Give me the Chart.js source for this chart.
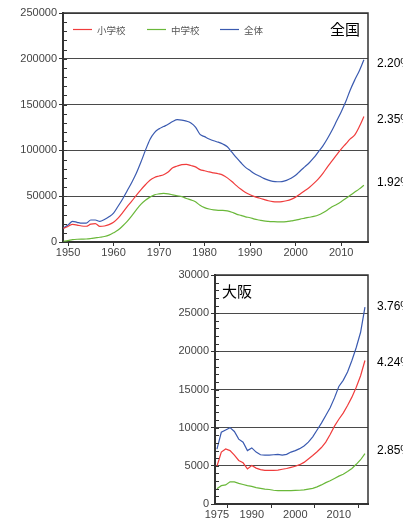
<!DOCTYPE html>
<html><head><meta charset="utf-8">
<script src="https://cdn.jsdelivr.net/npm/chart.js@4.4.1/dist/chart.umd.min.js"></script>
<style>
html,body{margin:0;padding:0;background:#fff;width:403px;height:522px;overflow:hidden;}
#c1{position:absolute;left:0;top:0;}
#c2{position:absolute;left:170px;top:262px;}
</style></head><body>
<canvas id="c1" width="403" height="262"></canvas>
<canvas id="c2" width="233" height="260"></canvas>
<script>
// ---------- data ----------
const seriesNames = ['小学校', '中学校', '全体'];
const seriesColors = ['#f03c3c', '#6ab83a', '#3a5ab0'];

const natYears = [1949,1950,1951,1952,1953,1954,1955,1956,1957,1958,1959,
  1960,1961,1962,1963,1964,1965,1966,1967,1968,1969,
  1970,1971,1972,1973,1974,1975,1976,1977,1978,1979,
  1980,1981,1982,1983,1984,1985,1986,1987,1988,1989,
  1990,1991,1992,1993,1994,1995,1996,1997,1998,1999,
  2000,2001,2002,2003,2004,2005,2006,2007,2008,2009,
  2010,2011,2012,2013,2014,2015];
const natElementary = [14900,17000,19200,18500,17500,17200,19500,20000,17000,17500,19000,
  21500,26000,32000,38500,44500,51000,57000,62500,67500,70500,
  72000,73500,76500,81000,83000,84500,84800,83500,82000,79000,
  77800,76500,75500,74500,73000,70000,66000,61500,57500,54000,
  51500,49500,48000,46500,45000,44000,43800,44000,45000,46500,
  49000,52500,56000,59500,64000,69000,75000,82000,88500,95000,
  101500,107000,112500,117000,126000,137000];
const natJunior = [800,1500,2500,3000,3200,3300,3800,4500,5200,6000,7500,
  10000,13000,17500,22500,28500,35000,41000,45500,49000,51500,
  52500,53000,52500,51500,50500,49500,47500,46000,44000,40000,
  37500,36000,35000,34500,34500,34000,32500,30500,29000,27500,
  26500,25000,24000,23000,22500,22200,22000,22000,22300,23000,
  23800,25000,26000,27000,28000,29500,32000,35000,38500,41000,
  44000,47500,51000,54500,58000,62000];
const natTotal = [15200,18500,22500,21500,20500,20500,24000,24000,22500,24500,27500,
  31500,39000,47000,56000,65000,75000,87000,100000,112000,119500,
  123500,126000,128500,131500,133500,133000,132000,130000,125500,117500,
  115000,112500,110500,109000,107000,104000,98000,92000,86500,81500,
  78000,74500,72000,69500,67500,66200,65800,66000,67300,69500,
  72800,77500,82000,86500,92000,98500,105000,113000,122000,132000,
  142000,153000,166000,177000,187000,199000];
const natTicksX = [1950,1960,1970,1980,1990,2000,2010];
const natRates = ['2.35%', '1.92%', '2.20%'];

const osakaYears = ['1975','1977','1979','1981','1983','1985','1987','1989',
  '1990','1991','1992','1993','1994','1995','1996','1997','1998','1999',
  '2000','2001','2002','2003','2004','2005','2006','2007','2008','2009',
  '2010','2011','2012','2013','2014','2015','2016'];
const osakaShownLabels = ['1975','1990','2000','2010'];
const osakaElementary = [4950,6800,7200,7000,6400,5700,5400,4600,
  5050,4700,4500,4400,4400,4400,4450,4550,4650,4800,
  4950,5150,5450,5900,6350,6850,7400,8100,9100,10200,
  11100,11900,12900,14000,15300,16800,18800];
const osakaJunior = [2000,2400,2500,2900,2900,2700,2550,2400,
  2300,2150,2050,1950,1900,1800,1750,1750,1750,1750,
  1780,1800,1850,1950,2050,2250,2500,2800,3050,3350,
  3650,3900,4250,4650,5200,5800,6600];
const osakaTotal = [7200,9400,9700,10000,9500,8500,8100,7000,
  7350,6800,6450,6400,6400,6450,6500,6400,6500,6800,
  7000,7250,7600,8100,8800,9700,10600,11600,12600,13900,
  15400,16200,17300,18800,20500,22500,25800];
const osakaRates = ['4.24%', '2.85%', '3.76%'];

// ---------- plugin ----------
const extras = {
  id: 'extras',
  afterDraw(chart, args, o) {
    const ctx = chart.ctx, a = chart.chartArea, ys = chart.scales.y;
    ctx.save();
    // minor ticks inside left axis
    ctx.strokeStyle = '#333'; ctx.lineWidth = 1;
    for (let v = 0; v <= ys.max; v += o.minor) {
      const py = Math.round(ys.getPixelForValue(v)) + 0.5;
      ctx.beginPath(); ctx.moveTo(a.left, py); ctx.lineTo(a.left + 4, py); ctx.stroke();
    }
    // frame top / right
    ctx.strokeStyle = '#333'; ctx.lineWidth = 1.5;
    ctx.beginPath(); ctx.moveTo(a.left, a.top); ctx.lineTo(a.right, a.top); ctx.lineTo(a.right, a.bottom); ctx.stroke();
    // title
    ctx.fillStyle = '#000'; ctx.font = '15px "Noto Sans CJK JP"'; ctx.textBaseline = 'middle';
    ctx.textAlign = o.titleAlign;
    ctx.fillText(o.title, o.titleAlign === 'right' ? a.right - 8 : a.left + 7, a.top + 16);
    // legend
    if (o.legend) {
      const offs = [10, 84, 157];
      ctx.font = '9.5px "Noto Sans CJK JP"'; ctx.textAlign = 'left';
      chart.data.datasets.forEach((ds, i) => {
        const x0 = a.left + offs[i], yy = a.top + 16;
        ctx.strokeStyle = ds.borderColor; ctx.lineWidth = 1.2;
        ctx.beginPath(); ctx.moveTo(x0, yy + 0.5); ctx.lineTo(x0 + 19, yy + 0.5); ctx.stroke();
        ctx.fillStyle = '#555';
        ctx.fillText(ds.label, x0 + 24, yy + 1);
      });
    }
    // rate labels beside line ends
    ctx.font = '12px "Liberation Sans"'; ctx.textAlign = 'left'; ctx.fillStyle = '#000';
    chart.data.datasets.forEach((ds, i) => {
      const last = ds.data[ds.data.length - 1];
      const yv = typeof last === 'object' ? last.y : last;
      ctx.fillText(o.rates[i], a.right + 9, ys.getPixelForValue(yv) + o.rateDy[i]);
    });
    ctx.restore();
  }
};

const tickFont = { family: '"Liberation Sans"', size: 11 };

function mkDatasets(vals, smooth) {
  return vals.map((v, i) => ({
    label: seriesNames[i], data: v, borderColor: seriesColors[i],
    borderWidth: 1.2, pointRadius: 0, fill: false,
    tension: smooth ? 0.4 : 0, cubicInterpolationMode: smooth ? 'monotone' : 'default'
  }));
}

// ---------- national chart ----------
new Chart(document.getElementById('c1'), {
  type: 'line',
  data: {
    datasets: mkDatasets([natElementary, natJunior, natTotal].map(arr => arr.map((v, k) => ({ x: natYears[k], y: v }))), true)
  },
  options: {
    responsive: false, animation: false,
    layout: { padding: { left: 0, right: 35, top: 13, bottom: 0 } },
    plugins: {
      legend: { display: false }, tooltip: { enabled: false },
      extras: { minor: 10000, title: '全国', titleAlign: 'right', legend: true, rates: natRates, rateDy: [3, -3, 4] }
    },
    scales: {
      x: {
        type: 'linear', min: 1948.9, max: 2015.9,
        afterBuildTicks: s => { s.ticks = natTicksX.map(v => ({ value: v })); },
        afterFit: s => { s.height = 20; },
        ticks: { color: '#444', font: tickFont, padding: 0, maxRotation: 0, callback: v => String(v) },
        grid: { drawOnChartArea: false, tickLength: 4, tickColor: '#333', tickWidth: 1 },
        border: { color: '#333', width: 2 }
      },
      y: {
        min: 0, max: 250000,
        afterFit: s => { s.width = 63; },
        ticks: { stepSize: 50000, color: '#444', font: tickFont, padding: 2, callback: v => String(v) },
        grid: { color: '#4a4a4a', lineWidth: 1, tickLength: 4, tickColor: '#333' },
        border: { color: '#333', width: 2 }
      }
    }
  },
  plugins: [extras]
});

// ---------- Osaka chart ----------
const osakaTickVals = [0, 2.5, 8, 12.5, 18, 22.5, 28, 32.5];
new Chart(document.getElementById('c2'), {
  type: 'line',
  data: {
    datasets: mkDatasets([osakaElementary, osakaJunior, osakaTotal].map(arr => arr.map((v, k) => ({ x: k, y: v }))), false)
  },
  options: {
    responsive: false, animation: false,
    layout: { padding: { left: 0, right: 35, top: 13, bottom: 0 } },
    plugins: {
      legend: { display: false }, tooltip: { enabled: false },
      extras: { minor: 1000, title: '大阪', titleAlign: 'left', legend: false, rates: osakaRates, rateDy: [2, -3, 0] }
    },
    scales: {
      x: {
        type: 'linear', min: -0.45, max: 34.7,
        afterBuildTicks: s => { s.ticks = osakaTickVals.map(v => ({ value: v })); },
        afterFit: s => { s.height = 18; },
        ticks: {
          color: '#444', font: tickFont, padding: 0, maxRotation: 0, autoSkip: false,
          callback: v => (Number.isInteger(v) && osakaShownLabels.includes(osakaYears[v])) ? osakaYears[v] : ''
        },
        grid: {
          drawOnChartArea: false, tickLength: 4, tickWidth: 1,
          tickColor: c => (c.tick && Number.isInteger(c.tick.value)) ? 'rgba(0,0,0,0)' : '#333'
        },
        border: { color: '#333', width: 2 }
      },
      y: {
        min: 0, max: 30000,
        afterFit: s => { s.width = 45; },
        ticks: { stepSize: 5000, color: '#444', font: tickFont, padding: 2, callback: v => String(v) },
        grid: { color: '#4a4a4a', lineWidth: 1, tickLength: 4, tickColor: '#333' },
        border: { color: '#333', width: 2 }
      }
    }
  },
  plugins: [extras]
});
</script>
</body></html>
